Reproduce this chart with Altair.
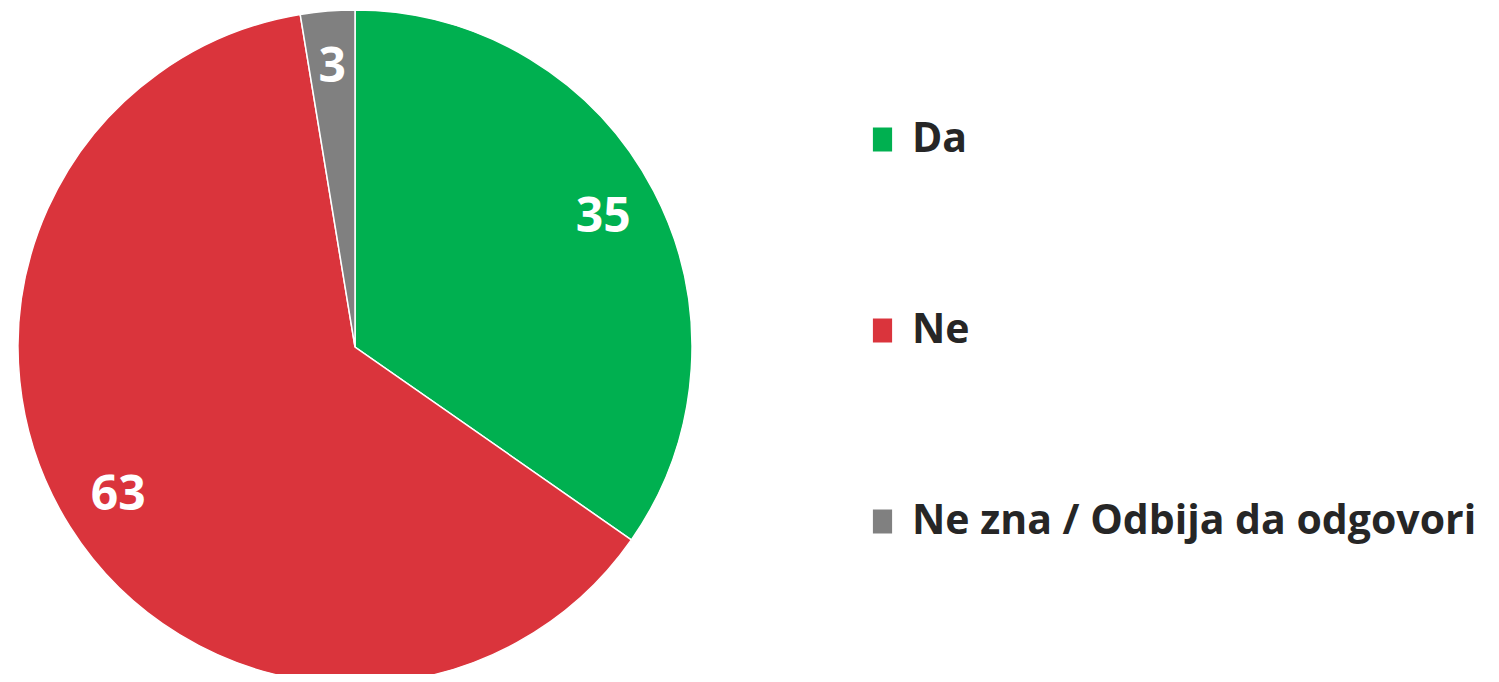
import altair as alt
import pandas as pd

categories = ["Da", "Ne", "Ne zna / Odbija da odgovori"]
values = [34.7, 62.7, 2.6]
labels = ["35", "63", "3"]
colors = ["#00B050", "#DA343C", "#808080"]

df = pd.DataFrame({"cat": categories, "val": values, "lab": labels, "ord": list(range(len(categories)))})

color_scale = alt.Scale(domain=categories, range=colors)

base = alt.Chart(df).encode(
    theta=alt.Theta("val:Q", stack=True),
    order=alt.Order("ord:Q"),
)

pie = base.mark_arc(outerRadius=337, stroke="white", strokeWidth=1.5).encode(
    x=alt.value(347),
    y=alt.value(339),
    color=alt.Color(
        "cat:N",
        scale=color_scale,
        sort=categories,
        legend=alt.Legend(
            title=None,
            orient="none",
            legendX=854,
            legendY=111,
            padding=0,
            symbolType="M-0.8,-1H0.8V1H-0.8Z",
            symbolSize=576,
            symbolStrokeWidth=0,
            labelFont="Open Sans",
            labelFontWeight="bold",
            labelFontSize=41,
            labelColor="#262626",
            labelOffset=9,
            rowPadding=149,
            labelLimit=800,
        ),
    ),
)

text = base.mark_text(
    radius=280, font="Open Sans", fontWeight="bold", fontSize=48, color="white",
    align="center", baseline="middle",
).encode(
    x=alt.value(347),
    y=alt.value(339),
    text="lab:N",
)

chart = (pie + text).properties(
    width=1483, height=666, autosize=alt.AutoSizeParams(type="none"), padding=0
).configure_view(stroke=None)

chart.save("out.html", embed_options={"renderer": "svg", "actions": False})
